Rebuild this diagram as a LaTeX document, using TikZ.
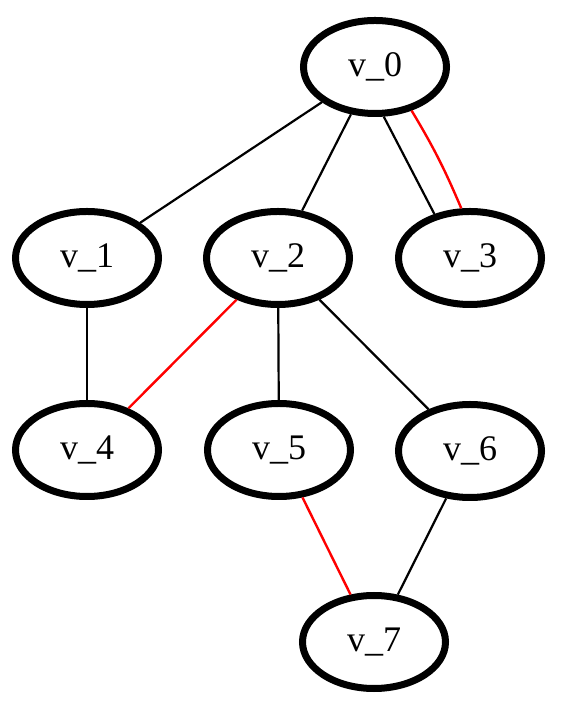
\documentclass[tikz,border=0pt]{standalone}
\usepackage{fontspec}
\setmainfont{Liberation Serif}
\usetikzlibrary{shapes.geometric}
\begin{document}
\begin{tikzpicture}[x=1pt,y=1pt,
  vertex/.style={ellipse, draw=black, line width=7pt, minimum width=143pt,
    minimum height=93pt, inner sep=0pt, font=\fontsize{36}{40}\selectfont},
  edge/.style={line width=2.2pt, black},
  hot/.style={line width=2.4pt, red}]
\useasboundingbox (0,0) rectangle (586,708);

% vertices
\node[vertex] (v0) at (375,641) {v\_0};
\node[vertex] (v1) at (87,450)  {v\_1};
\node[vertex] (v2) at (278,450) {v\_2};
\node[vertex] (v3) at (470,450) {v\_3};
\node[vertex] (v4) at (87,258)  {v\_4};
\node[vertex] (v5) at (279,258) {v\_5};
\node[vertex] (v6) at (470,257) {v\_6};
\node[vertex] (v7) at (374,66)  {v\_7};

% edges
\draw[edge] (v0) -- (v1);
\draw[edge] (v0) -- (v2);
\draw[edge] (v0.-80) -- (v3.129);
\draw[hot]  (v0.-50) to[bend left=4] (v3.100);
\draw[edge] (v1) -- (v4);
\draw[hot]  (v2) -- (v4);
\draw[edge] (v2) -- (v5);
\draw[edge] (v2) -- (v6);
\draw[hot]  (v5) -- (v7);
\draw[edge] (v6) -- (v7);
\end{tikzpicture}
\end{document}
